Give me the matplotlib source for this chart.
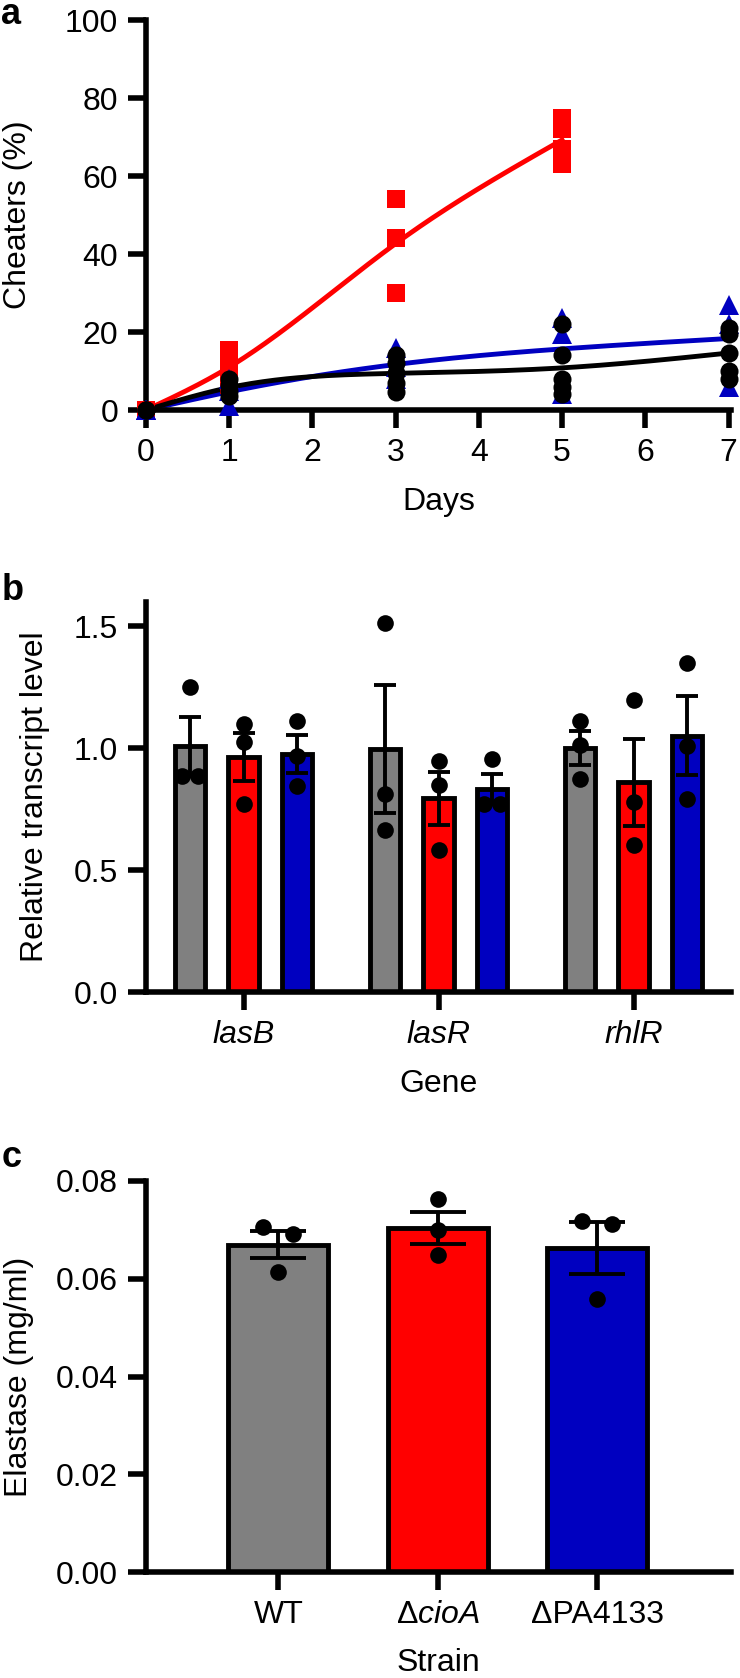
import matplotlib
matplotlib.use("Agg")
import matplotlib.pyplot as plt
import numpy as np

plt.rcParams['font.family'] = ['Liberation Sans', 'DejaVu Sans']
plt.rcParams['mathtext.fontset'] = 'custom'
plt.rcParams['mathtext.rm'] = 'Liberation Sans'
plt.rcParams['mathtext.it'] = 'Liberation Sans:italic'

RED = '#ff0000'
BLUE = '#0000c0'
GREY = '#808080'

# panel a: cheaters (%) per day, replicate values
days_cioA = [0, 1, 3, 5]
cheaters_cioA = [[0, 0, 0], [15.5, 11, 6.5], [54, 44, 30], [75, 72, 67, 63]]
days_pa4133 = [0, 1, 3, 5, 7]
cheaters_pa4133 = [[0, 0, 0], [8, 5, 1], [16, 11, 8], [23.5, 19.5, 4], [27, 22, 6]]
days_wt = [0, 1, 3, 5, 7]
cheaters_wt = [[0, 0, 0], [8, 6.5, 5, 3.5], [14, 12, 9.5, 7, 4.5],
               [22, 14, 8, 6, 4], [21, 19.5, 14.5, 10, 8]]

# panel b: relative transcript level
genes = ['lasB', 'lasR', 'rhlR']
transcript_wt = [[1.25, 0.888, 0.888], [1.514, 0.813, 0.664], [1.112, 1.015, 0.875]]
transcript_cioA = [[1.10, 1.024, 0.772], [0.949, 0.851, 0.582], [1.20, 0.779, 0.602]]
transcript_pa4133 = [[1.112, 0.97, 0.847], [0.955, 0.77, 0.77], [1.35, 1.01, 0.793]]

# panel c: elastase (mg/ml)
strains = ['WT', 'Δ$\\mathit{cioA}$', 'ΔPA4133']
elastase = [[0.0705, 0.0691, 0.0614], [0.0764, 0.0699, 0.0649], [0.0718, 0.0713, 0.0558]]


def spline(x, y, n=200):
    # natural cubic spline through the means
    x = np.asarray(x, float)
    y = np.asarray(y, float)
    m = len(x)
    h = np.diff(x)
    A = np.zeros((m, m))
    r = np.zeros(m)
    A[0, 0] = A[-1, -1] = 1
    for i in range(1, m - 1):
        A[i, i - 1] = h[i - 1]
        A[i, i] = 2 * (h[i - 1] + h[i])
        A[i, i + 1] = h[i]
        r[i] = 6 * ((y[i + 1] - y[i]) / h[i] - (y[i] - y[i - 1]) / h[i - 1])
    M = np.linalg.solve(A, r)
    xs = np.linspace(x[0], x[-1], n)
    k = np.clip(np.searchsorted(x, xs) - 1, 0, m - 2)
    t0 = x[k + 1] - xs
    t1 = xs - x[k]
    hk = h[k]
    ys = (M[k] * t0 ** 3 + M[k + 1] * t1 ** 3) / (6 * hk) \
        + (y[k] / hk - M[k] * hk / 6) * t0 + (y[k + 1] / hk - M[k + 1] * hk / 6) * t1
    return xs, ys


def spread(vals, thr, d):
    offs = np.zeros(len(vals))
    for i, v in enumerate(vals):
        near = [j for j in range(len(vals)) if abs(vals[j] - v) < thr]
        if len(near) > 1:
            offs[i] = (near.index(i) - (len(near) - 1) / 2) * d
    return offs


def style(ax):
    for s in ['top', 'right']:
        ax.spines[s].set_visible(False)
    for s in ['left', 'bottom']:
        ax.spines[s].set_linewidth(4)
    ax.tick_params(width=4, length=13, labelsize=23, pad=7, color='black')


fig = plt.figure(figsize=(7.4, 16.78), dpi=100)
W, H = 740.0, 1678.0

# ---- a
ax = fig.add_axes([146 / W, 1 - 410 / H, 585 / W, 390 / H])
style(ax)
series = [(days_cioA, cheaters_cioA, RED, 's', 13),
          (days_pa4133, cheaters_pa4133, BLUE, '^', 14),
          (days_wt, cheaters_wt, 'black', 'o', 13)]
for d, vals, c, mk, ms in series:
    xs, ys = spline(d, [np.mean(v) for v in vals])
    ax.plot(xs, ys, color=c, lw=3.5, zorder=2)
    for di, v in zip(d, vals):
        ax.plot([di] * len(v), v, mk, color=c, ms=ms, mew=0, ls='none',
                clip_on=False, zorder=3)
ax.set_xlim(0, 7.03)
ax.set_ylim(0, 100)
ax.set_xticks(range(8))
ax.set_yticks(range(0, 101, 20))
ax.set_xlabel('Days', fontsize=23)
ax.set_ylabel('Cheaters (%)', fontsize=23)
ax.xaxis.set_label_coords(0.5, -0.236)
ax.xaxis.label.set_va('center')
ax.yaxis.set_label_coords(-0.219, 0.5)
ax.yaxis.label.set_va('center')
fig.text(0.002, 1 - 24 / H, 'a', fontsize=26, fontweight='bold', va='baseline')

# ---- b
ax = fig.add_axes([146 / W, 1 - 992 / H, 585 / W, 390 / H])
style(ax)
xg = np.arange(len(genes))
bw = 0.154
off = 0.273
for j, (vals, c) in enumerate([(transcript_wt, GREY), (transcript_cioA, RED),
                               (transcript_pa4133, BLUE)]):
    pos = xg + (j - 1) * off
    means = [np.mean(v) for v in vals]
    sems = [np.std(v, ddof=1) / np.sqrt(len(v)) for v in vals]
    ax.bar(pos, means, width=bw, color=c, edgecolor='black', linewidth=3.5, zorder=2)
    ax.errorbar(pos, means, yerr=sems, fmt='none', ecolor='black', elinewidth=2.8,
                capsize=8, capthick=2.8, zorder=3)
    for p, v in zip(pos, vals):
        ax.plot(p + spread(v, 0.05, 0.082), v, 'o', color='black', ms=12, mew=0,
                zorder=4)
ax.set_xlim(-0.5, 2.5)
ax.set_ylim(0, 1.6)
ax.set_yticks([0, 0.5, 1.0, 1.5])
ax.set_yticklabels(['0.0', '0.5', '1.0', '1.5'])
ax.set_xticks(xg)
ax.set_xticklabels(genes, fontstyle='italic')
ax.set_xlabel('Gene', fontsize=23)
ax.set_ylabel('Relative transcript level', fontsize=23)
ax.xaxis.set_label_coords(0.5, -0.236)
ax.xaxis.label.set_va('center')
ax.yaxis.set_label_coords(-0.19, 0.5)
ax.yaxis.label.set_va('center')
fig.text(0.002, 1 - 600 / H, 'b', fontsize=26, fontweight='bold', va='baseline')

# ---- c
ax = fig.add_axes([146 / W, 1 - 1572 / H, 585 / W, 391 / H])
style(ax)
xs_c = np.arange(len(strains))
means = [np.mean(v) for v in elastase]
sems = [np.std(v, ddof=1) / np.sqrt(len(v)) for v in elastase]
ax.bar(xs_c, means, width=0.627, color=[GREY, RED, BLUE], edgecolor='black',
       linewidth=3.5, zorder=2)
ax.errorbar(xs_c, means, yerr=sems, fmt='none', ecolor='black', elinewidth=2.8,
            capsize=20, capthick=2.8, zorder=3)
for p, v in zip(xs_c, elastase):
    ax.plot(p + spread(v, 0.002, 0.19), v, 'o', color='black', ms=12, mew=0, zorder=4)
ax.set_xlim(-0.83, 2.84)
ax.set_ylim(0, 0.08)
ax.set_yticks([0, 0.02, 0.04, 0.06, 0.08])
ax.set_yticklabels(['0.00', '0.02', '0.04', '0.06', '0.08'])
ax.set_xticks(xs_c)
ax.set_xticklabels(strains)
ax.set_xlabel('Strain', fontsize=23)
ax.set_ylabel('Elastase (mg/ml)', fontsize=23)
ax.xaxis.set_label_coords(0.5, -0.233)
ax.xaxis.label.set_va('center')
ax.yaxis.set_label_coords(-0.217, 0.5)
ax.yaxis.label.set_va('center')
fig.text(0.002, 1 - 1167 / H, 'c', fontsize=26, fontweight='bold', va='baseline')

fig.savefig('out.png', dpi=100)
